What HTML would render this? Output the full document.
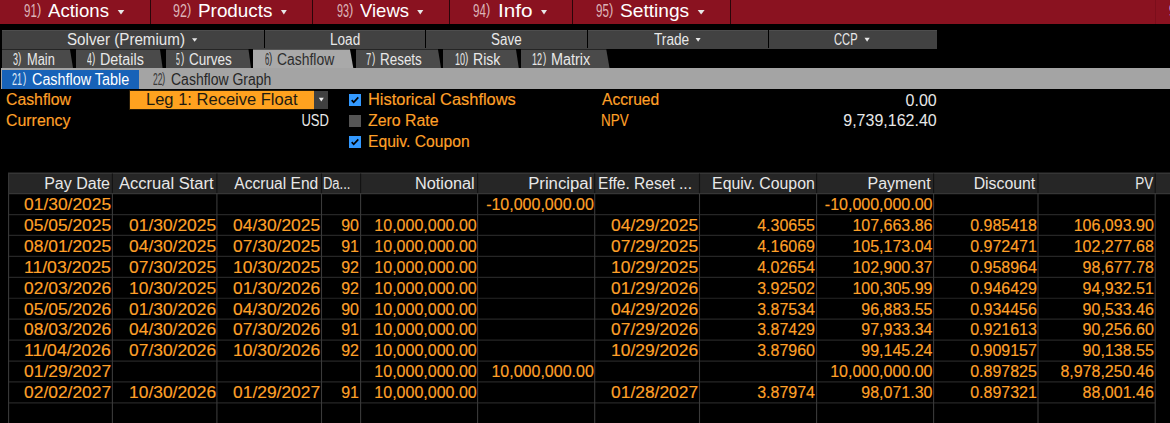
<!DOCTYPE html>
<html><head><meta charset="utf-8"><style>
html,body{margin:0;padding:0;background:#000;}
body{width:1170px;height:423px;overflow:hidden;position:relative;font-family:"Liberation Sans", sans-serif;}
span{white-space:pre;line-height:1;}
</style></head><body>
<div style="position:absolute;left:0px;top:0px;width:1170px;height:24px;background:#8a1220;"></div>
<div style="position:absolute;left:150px;top:0px;width:1px;height:24px;background:#2a0509;"></div>
<div style="position:absolute;left:312px;top:0px;width:1px;height:24px;background:#2a0509;"></div>
<div style="position:absolute;left:449px;top:0px;width:1px;height:24px;background:#2a0509;"></div>
<div style="position:absolute;left:572px;top:0px;width:1px;height:24px;background:#2a0509;"></div>
<div style="position:absolute;left:730px;top:0px;width:1px;height:24px;background:#2a0509;"></div>
<svg style="position:absolute;left:0;top:0" width="1170" height="423"><polygon points="117.7,9.9 124.3,9.9 121.0,14.6" fill="#e8e8e8"/></svg>
<svg style="position:absolute;left:0;top:0" width="1170" height="423"><polygon points="280.9,9.9 286.8,9.9 283.85,14.6" fill="#e8e8e8"/></svg>
<svg style="position:absolute;left:0;top:0" width="1170" height="423"><polygon points="417.2,9.9 423.3,9.9 420.25,14.6" fill="#e8e8e8"/></svg>
<svg style="position:absolute;left:0;top:0" width="1170" height="423"><polygon points="541,9.9 547,9.9 544.0,14.6" fill="#e8e8e8"/></svg>
<svg style="position:absolute;left:0;top:0" width="1170" height="423"><polygon points="697.7,9.9 704.6,9.9 701.1500000000001,14.6" fill="#e8e8e8"/></svg>
<div style="position:absolute;left:1155px;top:0px;width:1px;height:24px;background:#7c0e1b;"></div>
<div style="position:absolute;left:2px;top:30px;width:934.5px;height:18.5px;background:#424242;"></div>
<div style="position:absolute;left:2px;top:30px;width:934.5px;height:1px;background:#4e4e4e;"></div>
<div style="position:absolute;left:264px;top:30px;width:1px;height:18px;background:#000;"></div>
<div style="position:absolute;left:425px;top:30px;width:1px;height:18px;background:#000;"></div>
<div style="position:absolute;left:587px;top:30px;width:1px;height:18px;background:#000;"></div>
<div style="position:absolute;left:768px;top:30px;width:1px;height:18px;background:#000;"></div>
<svg style="position:absolute;left:0;top:0" width="1170" height="423"><polygon points="192,38.3 197.3,38.3 194.65,41.8" fill="#e8e8e8"/></svg>
<svg style="position:absolute;left:0;top:0" width="1170" height="423"><polygon points="695.6,38.0 700.6,38.0 698.1,41.8" fill="#e8e8e8"/></svg>
<svg style="position:absolute;left:0;top:0" width="1170" height="423"><polygon points="864.5,37.8 869.7,37.8 867.1,41.8" fill="#e8e8e8"/></svg>
<svg style="position:absolute;left:0;top:0" width="1170" height="423"><polygon points="2,49.5 70,49.5 73,68 2,68" fill="#4a4a4a"/><polygon points="76,49.5 160,49.5 162.6,68 76,68" fill="#4a4a4a"/><polygon points="166,49.5 248.5,49.5 251,68 166,68" fill="#4a4a4a"/><polygon points="253,49.5 350,49.5 353.3,68 253,68" fill="#a9a9a9"/><polygon points="356,49.5 438,49.5 441,68 356,68" fill="#4a4a4a"/><polygon points="443,49.5 516,49.5 518.8,68 443,68" fill="#4a4a4a"/><polygon points="521,49.5 606.3,49.5 609.5,68 521,68" fill="#4a4a4a"/></svg>
<div style="position:absolute;left:1px;top:68px;width:1169px;height:21px;background:#a4a4a4;"></div>
<div style="position:absolute;left:2px;top:70.3px;width:137px;height:18.3px;background:#1762b8;"></div>
<div style="position:absolute;left:129px;top:90px;width:185px;height:20px;background:#2a1c06;"></div>
<div style="position:absolute;left:130px;top:90.8px;width:183.5px;height:18.5px;background:#ffa21f;"></div>
<div style="position:absolute;left:313.5px;top:90.7px;width:14.5px;height:18.5px;background:#404040;"></div>
<svg style="position:absolute;left:0;top:0" width="1170" height="423"><polygon points="318.8,97.8 323.8,97.8 321.3,101.6" fill="#eeeeee"/></svg>
<svg style="position:absolute;left:349px;top:94px" width="12" height="12"><rect width="12" height="12" fill="#3399ff"/><polyline points="2.7,6.2 4.7,8.3 9.3,3.3" fill="none" stroke="#000" stroke-width="1.7"/></svg>
<div style="position:absolute;left:349px;top:115px;width:12px;height:12px;background:#555555;"></div>
<svg style="position:absolute;left:349px;top:136px" width="12" height="12"><rect width="12" height="12" fill="#3399ff"/><polyline points="2.7,6.2 4.7,8.3 9.3,3.3" fill="none" stroke="#000" stroke-width="1.7"/></svg>
<div style="position:absolute;left:8px;top:173px;width:1162px;height:21px;background:#262626;"></div>
<div style="position:absolute;left:8px;top:172px;width:1162px;height:1px;background:#1a1a1a;"></div>
<div style="position:absolute;left:8px;top:173px;width:1162px;height:1px;background:#363636;"></div>
<svg style="position:absolute;left:0;top:0" width="1170" height="423"><line x1="8.1" y1="193.60" x2="1170" y2="193.60" stroke="#363636" stroke-width="1.2"/><line x1="8.1" y1="214.53" x2="1155.2" y2="214.53" stroke="#262626" stroke-width="1.2"/><line x1="8.1" y1="235.46" x2="1155.2" y2="235.46" stroke="#262626" stroke-width="1.2"/><line x1="8.1" y1="256.39" x2="1155.2" y2="256.39" stroke="#262626" stroke-width="1.2"/><line x1="8.1" y1="277.32" x2="1155.2" y2="277.32" stroke="#262626" stroke-width="1.2"/><line x1="8.1" y1="298.25" x2="1155.2" y2="298.25" stroke="#262626" stroke-width="1.2"/><line x1="8.1" y1="319.18" x2="1155.2" y2="319.18" stroke="#262626" stroke-width="1.2"/><line x1="8.1" y1="340.11" x2="1155.2" y2="340.11" stroke="#262626" stroke-width="1.2"/><line x1="8.1" y1="361.04" x2="1155.2" y2="361.04" stroke="#262626" stroke-width="1.2"/><line x1="8.1" y1="381.97" x2="1155.2" y2="381.97" stroke="#262626" stroke-width="1.2"/><line x1="8.1" y1="402.90" x2="1155.2" y2="402.90" stroke="#262626" stroke-width="1.2"/><line x1="8.6" y1="193.6" x2="8.6" y2="423" stroke="#3a3a3a" stroke-width="1.1"/><line x1="8.6" y1="173.5" x2="8.6" y2="193.1" stroke="#383838" stroke-width="1.1"/><line x1="112.4" y1="193.6" x2="112.4" y2="423" stroke="#3a3a3a" stroke-width="1.1"/><line x1="112.4" y1="173.5" x2="112.4" y2="193.1" stroke="#121212" stroke-width="1.1"/><line x1="216.9" y1="193.6" x2="216.9" y2="423" stroke="#3a3a3a" stroke-width="1.1"/><line x1="216.9" y1="173.5" x2="216.9" y2="193.1" stroke="#121212" stroke-width="1.1"/><line x1="321.5" y1="193.6" x2="321.5" y2="423" stroke="#3a3a3a" stroke-width="1.1"/><line x1="321.5" y1="173.5" x2="321.5" y2="193.1" stroke="#121212" stroke-width="1.1"/><line x1="360.6" y1="193.6" x2="360.6" y2="423" stroke="#3a3a3a" stroke-width="1.1"/><line x1="360.6" y1="173.5" x2="360.6" y2="193.1" stroke="#121212" stroke-width="1.1"/><line x1="477.6" y1="193.6" x2="477.6" y2="423" stroke="#3a3a3a" stroke-width="1.1"/><line x1="477.6" y1="173.5" x2="477.6" y2="193.1" stroke="#121212" stroke-width="1.1"/><line x1="594.7" y1="193.6" x2="594.7" y2="423" stroke="#3a3a3a" stroke-width="1.1"/><line x1="594.7" y1="173.5" x2="594.7" y2="193.1" stroke="#121212" stroke-width="1.1"/><line x1="699.5" y1="193.6" x2="699.5" y2="423" stroke="#3a3a3a" stroke-width="1.1"/><line x1="699.5" y1="173.5" x2="699.5" y2="193.1" stroke="#121212" stroke-width="1.1"/><line x1="816.6" y1="193.6" x2="816.6" y2="423" stroke="#3a3a3a" stroke-width="1.1"/><line x1="816.6" y1="173.5" x2="816.6" y2="193.1" stroke="#121212" stroke-width="1.1"/><line x1="933.6" y1="193.6" x2="933.6" y2="423" stroke="#3a3a3a" stroke-width="1.1"/><line x1="933.6" y1="173.5" x2="933.6" y2="193.1" stroke="#121212" stroke-width="1.1"/><line x1="1038.0" y1="193.6" x2="1038.0" y2="423" stroke="#3a3a3a" stroke-width="1.1"/><line x1="1038.0" y1="173.5" x2="1038.0" y2="193.1" stroke="#121212" stroke-width="1.1"/><line x1="1155.2" y1="193.6" x2="1155.2" y2="423" stroke="#3a3a3a" stroke-width="1.1"/><line x1="1155.2" y1="173.5" x2="1155.2" y2="193.1" stroke="#121212" stroke-width="1.1"/></svg>
<span style="position:absolute;left:24.2px;top:1.30px;font-size:19px;color:#dcb4b8;transform:scaleX(0.6055);transform-origin:left;">91</span>
<span style="position:absolute;left:37.3px;top:2.21px;font-size:16.72px;color:#dcb4b8;transform:scaleX(0.7730);transform-origin:left;">)</span>
<span style="position:absolute;left:47.7px;top:1.30px;font-size:19px;color:#ffffff;transform:scaleX(0.9789);transform-origin:left;">Actions</span>
<span style="position:absolute;left:173.2px;top:1.30px;font-size:19px;color:#dcb4b8;transform:scaleX(0.6575);transform-origin:left;">92</span>
<span style="position:absolute;left:187.39999999999998px;top:2.21px;font-size:16.72px;color:#dcb4b8;transform:scaleX(0.7730);transform-origin:left;">)</span>
<span style="position:absolute;left:198px;top:1.30px;font-size:19px;color:#ffffff;transform:scaleX(0.9935);transform-origin:left;">Products</span>
<span style="position:absolute;left:336.7px;top:1.30px;font-size:19px;color:#dcb4b8;transform:scaleX(0.5676);transform-origin:left;">93</span>
<span style="position:absolute;left:349.0px;top:2.21px;font-size:16.72px;color:#dcb4b8;transform:scaleX(0.7730);transform-origin:left;">)</span>
<span style="position:absolute;left:360px;top:1.30px;font-size:19px;color:#ffffff;transform:scaleX(0.9733);transform-origin:left;">Views</span>
<span style="position:absolute;left:473.1px;top:1.30px;font-size:19px;color:#dcb4b8;transform:scaleX(0.6102);transform-origin:left;">94</span>
<span style="position:absolute;left:486.3px;top:2.21px;font-size:16.72px;color:#dcb4b8;transform:scaleX(0.7730);transform-origin:left;">)</span>
<span style="position:absolute;left:497.9px;top:1.30px;font-size:19px;color:#ffffff;transform:scaleX(1.0914);transform-origin:left;">Info</span>
<span style="position:absolute;left:596px;top:1.30px;font-size:19px;color:#dcb4b8;transform:scaleX(0.6102);transform-origin:left;">95</span>
<span style="position:absolute;left:609.2px;top:2.21px;font-size:16.72px;color:#dcb4b8;transform:scaleX(0.7730);transform-origin:left;">)</span>
<span style="position:absolute;left:620.4px;top:1.30px;font-size:19px;color:#ffffff;transform:scaleX(1.0079);transform-origin:left;">Settings</span>
<span style="position:absolute;left:1168.6px;top:1.30px;font-size:19px;color:#e8d8f0;transform:scaleX(0.6617);transform-origin:left;">9</span>
<span style="position:absolute;left:67.2px;top:31.60px;font-size:16px;color:#e8e8e8;transform:scaleX(0.9480);transform-origin:left;">Solver (Premium)</span>
<span style="position:absolute;left:330.1px;top:31.60px;font-size:16px;color:#e8e8e8;transform:scaleX(0.8485);transform-origin:left;">Load</span>
<span style="position:absolute;left:491.4px;top:31.60px;font-size:16px;color:#e8e8e8;transform:scaleX(0.8391);transform-origin:left;">Save</span>
<span style="position:absolute;left:653.9px;top:31.60px;font-size:16px;color:#e8e8e8;transform:scaleX(0.8543);transform-origin:left;">Trade</span>
<span style="position:absolute;left:833.8px;top:31.60px;font-size:16px;color:#e8e8e8;transform:scaleX(0.6986);transform-origin:left;">CCP</span>
<span style="position:absolute;left:12.8px;top:51.70px;font-size:16px;color:#e8e8e8;transform:scaleX(0.5614);transform-origin:left;">3</span>
<span style="position:absolute;left:18.099999999999998px;top:50.94px;font-size:14.08px;color:#e8e8e8;transform:scaleX(0.7017);transform-origin:left;">)</span>
<span style="position:absolute;left:26.7px;top:51.70px;font-size:16px;color:#e8e8e8;transform:scaleX(0.8014);transform-origin:left;">Main</span>
<span style="position:absolute;left:86.5px;top:51.70px;font-size:16px;color:#e8e8e8;transform:scaleX(0.5502);transform-origin:left;">4</span>
<span style="position:absolute;left:91.7px;top:50.94px;font-size:14.08px;color:#e8e8e8;transform:scaleX(0.7017);transform-origin:left;">)</span>
<span style="position:absolute;left:100.4px;top:51.70px;font-size:16px;color:#e8e8e8;transform:scaleX(0.8956);transform-origin:left;">Details</span>
<span style="position:absolute;left:176.3px;top:51.70px;font-size:16px;color:#e8e8e8;transform:scaleX(0.4379);transform-origin:left;">5</span>
<span style="position:absolute;left:180.5px;top:50.94px;font-size:14.08px;color:#e8e8e8;transform:scaleX(0.7017);transform-origin:left;">)</span>
<span style="position:absolute;left:189px;top:51.70px;font-size:16px;color:#e8e8e8;transform:scaleX(0.8444);transform-origin:left;">Curves</span>
<span style="position:absolute;left:264.8px;top:51.70px;font-size:16px;color:#2e2e2e;transform:scaleX(0.4716);transform-origin:left;">6</span>
<span style="position:absolute;left:269.3px;top:50.94px;font-size:14.08px;color:#2e2e2e;transform:scaleX(0.7017);transform-origin:left;">)</span>
<span style="position:absolute;left:277.4px;top:51.70px;font-size:16px;color:#2e2e2e;transform:scaleX(0.8691);transform-origin:left;">Cashflow</span>
<span style="position:absolute;left:366px;top:51.70px;font-size:16px;color:#e8e8e8;transform:scaleX(0.5839);transform-origin:left;">7</span>
<span style="position:absolute;left:371.5px;top:50.94px;font-size:14.08px;color:#e8e8e8;transform:scaleX(0.7017);transform-origin:left;">)</span>
<span style="position:absolute;left:380px;top:51.70px;font-size:16px;color:#e8e8e8;transform:scaleX(0.8394);transform-origin:left;">Resets</span>
<span style="position:absolute;left:454.5px;top:51.70px;font-size:16px;color:#e8e8e8;transform:scaleX(0.5675);transform-origin:left;">10</span>
<span style="position:absolute;left:464.9px;top:50.94px;font-size:14.08px;color:#e8e8e8;transform:scaleX(0.7017);transform-origin:left;">)</span>
<span style="position:absolute;left:472.5px;top:51.70px;font-size:16px;color:#e8e8e8;transform:scaleX(0.8775);transform-origin:left;">Risk</span>
<span style="position:absolute;left:532.3px;top:51.70px;font-size:16px;color:#e8e8e8;transform:scaleX(0.5675);transform-origin:left;">12</span>
<span style="position:absolute;left:542.7px;top:50.94px;font-size:14.08px;color:#e8e8e8;transform:scaleX(0.7017);transform-origin:left;">)</span>
<span style="position:absolute;left:551.1px;top:51.70px;font-size:16px;color:#e8e8e8;transform:scaleX(0.9022);transform-origin:left;">Matrix</span>
<span style="position:absolute;left:12.4px;top:72.20px;font-size:16px;color:#dfe8f5;transform:scaleX(0.5619);transform-origin:left;">21</span>
<span style="position:absolute;left:22.7px;top:71.44px;font-size:14.08px;color:#dfe8f5;transform:scaleX(0.7017);transform-origin:left;">)</span>
<span style="position:absolute;left:31.7px;top:72.20px;font-size:16px;color:#ffffff;transform:scaleX(0.8982);transform-origin:left;">Cashflow Table</span>
<span style="position:absolute;left:152.5px;top:72.20px;font-size:16px;color:#3a3a3a;transform:scaleX(0.5338);transform-origin:left;">22</span>
<span style="position:absolute;left:162.29999999999998px;top:71.44px;font-size:14.08px;color:#3a3a3a;transform:scaleX(0.7017);transform-origin:left;">)</span>
<span style="position:absolute;left:171px;top:72.20px;font-size:16px;color:#262626;transform:scaleX(0.8752);transform-origin:left;">Cashflow Graph</span>
<span style="position:absolute;left:5.7px;top:92.20px;font-size:16px;color:#ffa028;transform:scaleX(0.9877);transform-origin:left;-webkit-text-stroke:0.15px #ffa028;">Cashflow</span>
<span style="position:absolute;left:6.2px;top:112.80px;font-size:16px;color:#ffa028;transform:scaleX(0.9937);transform-origin:left;-webkit-text-stroke:0.15px #ffa028;">Currency</span>
<span style="position:absolute;left:146.2px;top:91.90px;font-size:16px;color:#1e1a10;transform:scaleX(1.0324);transform-origin:left;">Leg 1: Receive Float</span>
<span style="position:absolute;left:295.31875px;top:112.60px;font-size:16px;color:#e8e8e8;transform:scaleX(0.8111);transform-origin:right;">USD</span>
<span style="position:absolute;left:368.4px;top:92.20px;font-size:16px;color:#ffa028;transform:scaleX(1.0261);transform-origin:left;-webkit-text-stroke:0.15px #ffa028;">Historical Cashflows</span>
<span style="position:absolute;left:368.4px;top:113.20px;font-size:16px;color:#ffa028;transform:scaleX(0.9924);transform-origin:left;-webkit-text-stroke:0.15px #ffa028;">Zero Rate</span>
<span style="position:absolute;left:368.4px;top:134.30px;font-size:16px;color:#ffa028;transform:scaleX(0.9790);transform-origin:left;-webkit-text-stroke:0.15px #ffa028;">Equiv. Coupon</span>
<span style="position:absolute;left:602px;top:92.20px;font-size:16px;color:#ffa028;transform:scaleX(0.9744);transform-origin:left;-webkit-text-stroke:0.15px #ffa028;">Accrued</span>
<span style="position:absolute;left:601.4px;top:113.00px;font-size:16px;color:#ffa028;transform:scaleX(0.8387);transform-origin:left;-webkit-text-stroke:0.15px #ffa028;">NPV</span>
<span style="position:absolute;left:905.559375px;top:92.60px;font-size:16px;color:#e8e8e8;">0.00</span>
<span style="position:absolute;left:843.278125px;top:113.30px;font-size:16px;color:#e8e8e8;">9,739,162.40</span>
<span style="position:absolute;left:44.1875px;top:176.10px;font-size:16px;color:#e8e8e8;">Pay Date</span>
<span style="position:absolute;left:122.10624999999999px;top:176.10px;font-size:16px;color:#e8e8e8;transform:scaleX(1.0339);transform-origin:right;">Accrual Start</span>
<span style="position:absolute;left:231.734375px;top:176.10px;font-size:16px;color:#e8e8e8;transform:scaleX(0.9737);transform-origin:right;">Accrual End</span>
<span style="position:absolute;left:323px;top:176.10px;font-size:16px;color:#e8e8e8;transform:scaleX(0.8107);transform-origin:left;">Da...</span>
<span style="position:absolute;left:416.096875px;top:176.10px;font-size:16px;color:#e8e8e8;transform:scaleX(1.0187);transform-origin:right;">Notional</span>
<span style="position:absolute;left:530.640625px;top:176.10px;font-size:16px;color:#e8e8e8;transform:scaleX(1.0463);transform-origin:right;">Principal</span>
<span style="position:absolute;left:597.9px;top:176.10px;font-size:16px;color:#e8e8e8;transform:scaleX(0.9727);transform-origin:left;">Effe. Reset ...</span>
<span style="position:absolute;left:710.61875px;top:176.10px;font-size:16px;color:#e8e8e8;transform:scaleX(0.9896);transform-origin:right;">Equiv. Coupon</span>
<span style="position:absolute;left:867.559375px;top:176.10px;font-size:16px;color:#e8e8e8;">Payment</span>
<span style="position:absolute;left:972.75px;top:176.10px;font-size:16px;color:#e8e8e8;transform:scaleX(0.9896);transform-origin:right;">Discount</span>
<span style="position:absolute;left:1131.65625px;top:176.10px;font-size:16px;color:#e8e8e8;transform:scaleX(0.8433);transform-origin:right;">PV</span>
<span style="position:absolute;left:31.121875000000003px;top:196.90px;font-size:16px;color:#ffa028;transform:scaleX(1.0864);transform-origin:right;-webkit-text-stroke:0.15px #ffa028;">01/30/2025</span>
<span style="position:absolute;left:486.14374999999995px;top:196.90px;font-size:16px;color:#ffa028;-webkit-text-stroke:0.15px #ffa028;">-10,000,000.00</span>
<span style="position:absolute;left:824.84375px;top:196.90px;font-size:16px;color:#ffa028;-webkit-text-stroke:0.15px #ffa028;">-10,000,000.00</span>
<span style="position:absolute;left:31.121875000000003px;top:217.83px;font-size:16px;color:#ffa028;transform:scaleX(1.0864);transform-origin:right;-webkit-text-stroke:0.15px #ffa028;">05/05/2025</span>
<span style="position:absolute;left:135.921875px;top:217.83px;font-size:16px;color:#ffa028;transform:scaleX(1.0864);transform-origin:right;-webkit-text-stroke:0.15px #ffa028;">01/30/2025</span>
<span style="position:absolute;left:239.621875px;top:217.83px;font-size:16px;color:#ffa028;transform:scaleX(1.0864);transform-origin:right;-webkit-text-stroke:0.15px #ffa028;">04/30/2025</span>
<span style="position:absolute;left:341.203125px;top:217.83px;font-size:16px;color:#ffa028;-webkit-text-stroke:0.15px #ffa028;">90</span>
<span style="position:absolute;left:374.371875px;top:217.83px;font-size:16px;color:#ffa028;-webkit-text-stroke:0.15px #ffa028;">10,000,000.00</span>
<span style="position:absolute;left:618.321875px;top:217.83px;font-size:16px;color:#ffa028;transform:scaleX(1.0864);transform-origin:right;-webkit-text-stroke:0.15px #ffa028;">04/29/2025</span>
<span style="position:absolute;left:757.15625px;top:217.83px;font-size:16px;color:#ffa028;-webkit-text-stroke:0.15px #ffa028;">4.30655</span>
<span style="position:absolute;left:852.421875px;top:217.83px;font-size:16px;color:#ffa028;-webkit-text-stroke:0.15px #ffa028;">107,663.86</span>
<span style="position:absolute;left:970.1656250000001px;top:217.83px;font-size:16px;color:#ffa028;-webkit-text-stroke:0.15px #ffa028;">0.985418</span>
<span style="position:absolute;left:1073.721875px;top:217.83px;font-size:16px;color:#ffa028;-webkit-text-stroke:0.15px #ffa028;">106,093.90</span>
<span style="position:absolute;left:31.121875000000003px;top:238.76px;font-size:16px;color:#ffa028;transform:scaleX(1.0864);transform-origin:right;-webkit-text-stroke:0.15px #ffa028;">08/01/2025</span>
<span style="position:absolute;left:135.921875px;top:238.76px;font-size:16px;color:#ffa028;transform:scaleX(1.0864);transform-origin:right;-webkit-text-stroke:0.15px #ffa028;">04/30/2025</span>
<span style="position:absolute;left:239.621875px;top:238.76px;font-size:16px;color:#ffa028;transform:scaleX(1.0864);transform-origin:right;-webkit-text-stroke:0.15px #ffa028;">07/30/2025</span>
<span style="position:absolute;left:341.203125px;top:238.76px;font-size:16px;color:#ffa028;-webkit-text-stroke:0.15px #ffa028;">91</span>
<span style="position:absolute;left:374.371875px;top:238.76px;font-size:16px;color:#ffa028;-webkit-text-stroke:0.15px #ffa028;">10,000,000.00</span>
<span style="position:absolute;left:618.321875px;top:238.76px;font-size:16px;color:#ffa028;transform:scaleX(1.0864);transform-origin:right;-webkit-text-stroke:0.15px #ffa028;">07/29/2025</span>
<span style="position:absolute;left:757.15625px;top:238.76px;font-size:16px;color:#ffa028;-webkit-text-stroke:0.15px #ffa028;">4.16069</span>
<span style="position:absolute;left:852.421875px;top:238.76px;font-size:16px;color:#ffa028;-webkit-text-stroke:0.15px #ffa028;">105,173.04</span>
<span style="position:absolute;left:970.1656250000001px;top:238.76px;font-size:16px;color:#ffa028;-webkit-text-stroke:0.15px #ffa028;">0.972471</span>
<span style="position:absolute;left:1073.721875px;top:238.76px;font-size:16px;color:#ffa028;-webkit-text-stroke:0.15px #ffa028;">102,277.68</span>
<span style="position:absolute;left:32.309375px;top:259.69px;font-size:16px;color:#ffa028;transform:scaleX(1.1028);transform-origin:right;-webkit-text-stroke:0.15px #ffa028;">11/03/2025</span>
<span style="position:absolute;left:135.921875px;top:259.69px;font-size:16px;color:#ffa028;transform:scaleX(1.0864);transform-origin:right;-webkit-text-stroke:0.15px #ffa028;">07/30/2025</span>
<span style="position:absolute;left:239.621875px;top:259.69px;font-size:16px;color:#ffa028;transform:scaleX(1.0864);transform-origin:right;-webkit-text-stroke:0.15px #ffa028;">10/30/2025</span>
<span style="position:absolute;left:341.203125px;top:259.69px;font-size:16px;color:#ffa028;-webkit-text-stroke:0.15px #ffa028;">92</span>
<span style="position:absolute;left:374.371875px;top:259.69px;font-size:16px;color:#ffa028;-webkit-text-stroke:0.15px #ffa028;">10,000,000.00</span>
<span style="position:absolute;left:618.321875px;top:259.69px;font-size:16px;color:#ffa028;transform:scaleX(1.0864);transform-origin:right;-webkit-text-stroke:0.15px #ffa028;">10/29/2025</span>
<span style="position:absolute;left:757.15625px;top:259.69px;font-size:16px;color:#ffa028;-webkit-text-stroke:0.15px #ffa028;">4.02654</span>
<span style="position:absolute;left:852.421875px;top:259.69px;font-size:16px;color:#ffa028;-webkit-text-stroke:0.15px #ffa028;">102,900.37</span>
<span style="position:absolute;left:970.1656250000001px;top:259.69px;font-size:16px;color:#ffa028;-webkit-text-stroke:0.15px #ffa028;">0.958964</span>
<span style="position:absolute;left:1082.6125px;top:259.69px;font-size:16px;color:#ffa028;-webkit-text-stroke:0.15px #ffa028;">98,677.78</span>
<span style="position:absolute;left:31.121875000000003px;top:280.62px;font-size:16px;color:#ffa028;transform:scaleX(1.0864);transform-origin:right;-webkit-text-stroke:0.15px #ffa028;">02/03/2026</span>
<span style="position:absolute;left:135.921875px;top:280.62px;font-size:16px;color:#ffa028;transform:scaleX(1.0864);transform-origin:right;-webkit-text-stroke:0.15px #ffa028;">10/30/2025</span>
<span style="position:absolute;left:239.621875px;top:280.62px;font-size:16px;color:#ffa028;transform:scaleX(1.0864);transform-origin:right;-webkit-text-stroke:0.15px #ffa028;">01/30/2026</span>
<span style="position:absolute;left:341.203125px;top:280.62px;font-size:16px;color:#ffa028;-webkit-text-stroke:0.15px #ffa028;">92</span>
<span style="position:absolute;left:374.371875px;top:280.62px;font-size:16px;color:#ffa028;-webkit-text-stroke:0.15px #ffa028;">10,000,000.00</span>
<span style="position:absolute;left:618.321875px;top:280.62px;font-size:16px;color:#ffa028;transform:scaleX(1.0864);transform-origin:right;-webkit-text-stroke:0.15px #ffa028;">01/29/2026</span>
<span style="position:absolute;left:757.15625px;top:280.62px;font-size:16px;color:#ffa028;-webkit-text-stroke:0.15px #ffa028;">3.92502</span>
<span style="position:absolute;left:852.421875px;top:280.62px;font-size:16px;color:#ffa028;-webkit-text-stroke:0.15px #ffa028;">100,305.99</span>
<span style="position:absolute;left:970.1656250000001px;top:280.62px;font-size:16px;color:#ffa028;-webkit-text-stroke:0.15px #ffa028;">0.946429</span>
<span style="position:absolute;left:1082.6125px;top:280.62px;font-size:16px;color:#ffa028;-webkit-text-stroke:0.15px #ffa028;">94,932.51</span>
<span style="position:absolute;left:31.121875000000003px;top:301.55px;font-size:16px;color:#ffa028;transform:scaleX(1.0864);transform-origin:right;-webkit-text-stroke:0.15px #ffa028;">05/05/2026</span>
<span style="position:absolute;left:135.921875px;top:301.55px;font-size:16px;color:#ffa028;transform:scaleX(1.0864);transform-origin:right;-webkit-text-stroke:0.15px #ffa028;">01/30/2026</span>
<span style="position:absolute;left:239.621875px;top:301.55px;font-size:16px;color:#ffa028;transform:scaleX(1.0864);transform-origin:right;-webkit-text-stroke:0.15px #ffa028;">04/30/2026</span>
<span style="position:absolute;left:341.203125px;top:301.55px;font-size:16px;color:#ffa028;-webkit-text-stroke:0.15px #ffa028;">90</span>
<span style="position:absolute;left:374.371875px;top:301.55px;font-size:16px;color:#ffa028;-webkit-text-stroke:0.15px #ffa028;">10,000,000.00</span>
<span style="position:absolute;left:618.321875px;top:301.55px;font-size:16px;color:#ffa028;transform:scaleX(1.0864);transform-origin:right;-webkit-text-stroke:0.15px #ffa028;">04/29/2026</span>
<span style="position:absolute;left:757.15625px;top:301.55px;font-size:16px;color:#ffa028;-webkit-text-stroke:0.15px #ffa028;">3.87534</span>
<span style="position:absolute;left:861.3125px;top:301.55px;font-size:16px;color:#ffa028;-webkit-text-stroke:0.15px #ffa028;">96,883.55</span>
<span style="position:absolute;left:970.1656250000001px;top:301.55px;font-size:16px;color:#ffa028;-webkit-text-stroke:0.15px #ffa028;">0.934456</span>
<span style="position:absolute;left:1082.6125px;top:301.55px;font-size:16px;color:#ffa028;-webkit-text-stroke:0.15px #ffa028;">90,533.46</span>
<span style="position:absolute;left:31.121875000000003px;top:322.48px;font-size:16px;color:#ffa028;transform:scaleX(1.0864);transform-origin:right;-webkit-text-stroke:0.15px #ffa028;">08/03/2026</span>
<span style="position:absolute;left:135.921875px;top:322.48px;font-size:16px;color:#ffa028;transform:scaleX(1.0864);transform-origin:right;-webkit-text-stroke:0.15px #ffa028;">04/30/2026</span>
<span style="position:absolute;left:239.621875px;top:322.48px;font-size:16px;color:#ffa028;transform:scaleX(1.0864);transform-origin:right;-webkit-text-stroke:0.15px #ffa028;">07/30/2026</span>
<span style="position:absolute;left:341.203125px;top:322.48px;font-size:16px;color:#ffa028;-webkit-text-stroke:0.15px #ffa028;">91</span>
<span style="position:absolute;left:374.371875px;top:322.48px;font-size:16px;color:#ffa028;-webkit-text-stroke:0.15px #ffa028;">10,000,000.00</span>
<span style="position:absolute;left:618.321875px;top:322.48px;font-size:16px;color:#ffa028;transform:scaleX(1.0864);transform-origin:right;-webkit-text-stroke:0.15px #ffa028;">07/29/2026</span>
<span style="position:absolute;left:757.15625px;top:322.48px;font-size:16px;color:#ffa028;-webkit-text-stroke:0.15px #ffa028;">3.87429</span>
<span style="position:absolute;left:861.3125px;top:322.48px;font-size:16px;color:#ffa028;-webkit-text-stroke:0.15px #ffa028;">97,933.34</span>
<span style="position:absolute;left:970.1656250000001px;top:322.48px;font-size:16px;color:#ffa028;-webkit-text-stroke:0.15px #ffa028;">0.921613</span>
<span style="position:absolute;left:1082.6125px;top:322.48px;font-size:16px;color:#ffa028;-webkit-text-stroke:0.15px #ffa028;">90,256.60</span>
<span style="position:absolute;left:32.309375px;top:343.41px;font-size:16px;color:#ffa028;transform:scaleX(1.1028);transform-origin:right;-webkit-text-stroke:0.15px #ffa028;">11/04/2026</span>
<span style="position:absolute;left:135.921875px;top:343.41px;font-size:16px;color:#ffa028;transform:scaleX(1.0864);transform-origin:right;-webkit-text-stroke:0.15px #ffa028;">07/30/2026</span>
<span style="position:absolute;left:239.621875px;top:343.41px;font-size:16px;color:#ffa028;transform:scaleX(1.0864);transform-origin:right;-webkit-text-stroke:0.15px #ffa028;">10/30/2026</span>
<span style="position:absolute;left:341.203125px;top:343.41px;font-size:16px;color:#ffa028;-webkit-text-stroke:0.15px #ffa028;">92</span>
<span style="position:absolute;left:374.371875px;top:343.41px;font-size:16px;color:#ffa028;-webkit-text-stroke:0.15px #ffa028;">10,000,000.00</span>
<span style="position:absolute;left:618.321875px;top:343.41px;font-size:16px;color:#ffa028;transform:scaleX(1.0864);transform-origin:right;-webkit-text-stroke:0.15px #ffa028;">10/29/2026</span>
<span style="position:absolute;left:757.15625px;top:343.41px;font-size:16px;color:#ffa028;-webkit-text-stroke:0.15px #ffa028;">3.87960</span>
<span style="position:absolute;left:861.3125px;top:343.41px;font-size:16px;color:#ffa028;-webkit-text-stroke:0.15px #ffa028;">99,145.24</span>
<span style="position:absolute;left:970.1656250000001px;top:343.41px;font-size:16px;color:#ffa028;-webkit-text-stroke:0.15px #ffa028;">0.909157</span>
<span style="position:absolute;left:1082.6125px;top:343.41px;font-size:16px;color:#ffa028;-webkit-text-stroke:0.15px #ffa028;">90,138.55</span>
<span style="position:absolute;left:31.121875000000003px;top:364.34px;font-size:16px;color:#ffa028;transform:scaleX(1.0864);transform-origin:right;-webkit-text-stroke:0.15px #ffa028;">01/29/2027</span>
<span style="position:absolute;left:374.371875px;top:364.34px;font-size:16px;color:#ffa028;-webkit-text-stroke:0.15px #ffa028;">10,000,000.00</span>
<span style="position:absolute;left:491.47187499999995px;top:364.34px;font-size:16px;color:#ffa028;-webkit-text-stroke:0.15px #ffa028;">10,000,000.00</span>
<span style="position:absolute;left:830.171875px;top:364.34px;font-size:16px;color:#ffa028;-webkit-text-stroke:0.15px #ffa028;">10,000,000.00</span>
<span style="position:absolute;left:970.1656250000001px;top:364.34px;font-size:16px;color:#ffa028;-webkit-text-stroke:0.15px #ffa028;">0.897825</span>
<span style="position:absolute;left:1060.378125px;top:364.34px;font-size:16px;color:#ffa028;-webkit-text-stroke:0.15px #ffa028;">8,978,250.46</span>
<span style="position:absolute;left:31.121875000000003px;top:385.27px;font-size:16px;color:#ffa028;transform:scaleX(1.0864);transform-origin:right;-webkit-text-stroke:0.15px #ffa028;">02/02/2027</span>
<span style="position:absolute;left:135.921875px;top:385.27px;font-size:16px;color:#ffa028;transform:scaleX(1.0864);transform-origin:right;-webkit-text-stroke:0.15px #ffa028;">10/30/2026</span>
<span style="position:absolute;left:239.621875px;top:385.27px;font-size:16px;color:#ffa028;transform:scaleX(1.0864);transform-origin:right;-webkit-text-stroke:0.15px #ffa028;">01/29/2027</span>
<span style="position:absolute;left:341.203125px;top:385.27px;font-size:16px;color:#ffa028;-webkit-text-stroke:0.15px #ffa028;">91</span>
<span style="position:absolute;left:374.371875px;top:385.27px;font-size:16px;color:#ffa028;-webkit-text-stroke:0.15px #ffa028;">10,000,000.00</span>
<span style="position:absolute;left:618.321875px;top:385.27px;font-size:16px;color:#ffa028;transform:scaleX(1.0864);transform-origin:right;-webkit-text-stroke:0.15px #ffa028;">01/28/2027</span>
<span style="position:absolute;left:757.15625px;top:385.27px;font-size:16px;color:#ffa028;-webkit-text-stroke:0.15px #ffa028;">3.87974</span>
<span style="position:absolute;left:861.3125px;top:385.27px;font-size:16px;color:#ffa028;-webkit-text-stroke:0.15px #ffa028;">98,071.30</span>
<span style="position:absolute;left:970.1656250000001px;top:385.27px;font-size:16px;color:#ffa028;-webkit-text-stroke:0.15px #ffa028;">0.897321</span>
<span style="position:absolute;left:1082.6125px;top:385.27px;font-size:16px;color:#ffa028;-webkit-text-stroke:0.15px #ffa028;">88,001.46</span>
</body></html>
